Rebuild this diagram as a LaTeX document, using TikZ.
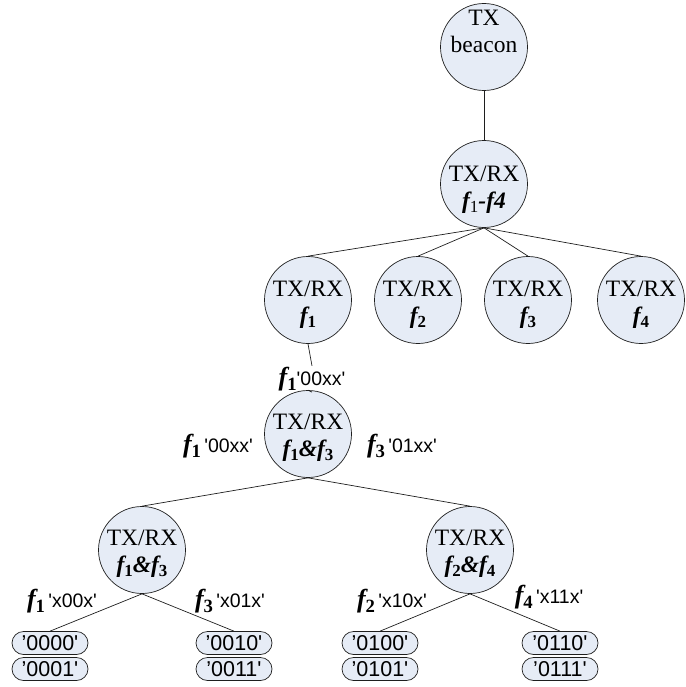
\documentclass[tikz,border=0pt]{standalone}
\usepackage{fontspec}
\setmainfont{Liberation Serif}
\setsansfont{Liberation Sans}

\definecolor{nodefill}{RGB}{230,236,246}
\definecolor{inkline}{RGB}{30,30,30}

% bold italic f with a bold upright subscript
\newcommand\fs[1]{{\rmfamily\bfseries\itshape f}{\rmfamily\bfseries\upshape\raisebox{-0.4ex}{\scalebox{0.72}{#1}}}}
\newcommand\sq{\textquotesingle}
% edge label: large f with subscript, then a code in sans
\newcommand\branch[3]{{\fontsize{26}{26}\selectfont\fs{#1}}#2\sq #3\sq}
% two-line station text, raised by #1 without changing the circle size
\newcommand\stn[3]{\raisebox{#1}[0pt][0pt]{\begin{tabular}{@{}c@{}}#2\\#3\end{tabular}}}

\tikzset{
  station/.style={circle, draw=inkline, fill=nodefill, line width=0.7pt,
    minimum size=87pt, inner sep=0pt,
    font=\fontsize{23.5}{26.5}\selectfont},
  codepill/.style={rectangle, rounded corners=11.5pt, draw=inkline, fill=nodefill,
    line width=0.7pt, minimum width=76pt, minimum height=23pt, inner sep=0pt,
    font=\sffamily\fontsize{21.5}{21.5}\selectfont},
  link/.style={draw=inkline, line width=0.7pt},
  edgelabel/.style={inner sep=1pt, font=\sffamily\fontsize{19.5}{19.5}\selectfont}
}

\begin{document}
\begin{tikzpicture}[x=1pt, y=-1pt]
  \useasboundingbox (0,0) rectangle (685,687);

  % stations
  \node[station] (beacon) at (484,47)  {\stn{7pt}{TX}{beacon}};
  \node[station] (all)    at (484,184) {\stn{-12pt}{TX/RX}{{\bfseries\itshape f}\raisebox{-0.4ex}{\scalebox{0.72}{1}}{\bfseries\itshape -f4}}};
  \node[station] (fa)     at (308,300) {\stn{-11pt}{TX/RX}{\fs{1}}};
  \node[station] (fb)     at (418,300) {\stn{-11pt}{TX/RX}{\fs{2}}};
  \node[station] (fc)     at (528,300) {\stn{-11pt}{TX/RX}{\fs{3}}};
  \node[station] (fd)     at (641,300) {\stn{-11pt}{TX/RX}{\fs{4}}};
  \node[station] (mid)    at (308,434) {\stn{-10pt}{TX/RX}{\fs{1}{\bfseries\itshape\&}\fs{3}}};
  \node[station] (left)   at (142,550) {\stn{-10pt}{TX/RX}{\fs{1}{\bfseries\itshape\&}\fs{3}}};
  \node[station] (right)  at (470,550) {\stn{-10pt}{TX/RX}{\fs{2}{\bfseries\itshape\&}\fs{4}}};

  % code leaves
  \node[codepill] (c0000) at (50,643)  {’0000\sq};
  \node[codepill] (c0001) at (50,669)  {’0001\sq};
  \node[codepill] (c0010) at (234,643) {’0010\sq};
  \node[codepill] (c0011) at (234,669) {’0011\sq};
  \node[codepill] (c0100) at (380,643) {’0100\sq};
  \node[codepill] (c0101) at (380,669) {’0101\sq};
  \node[codepill] (c0110) at (560,643) {’0110\sq};
  \node[codepill] (c0111) at (560,669) {’0111\sq};

  % branch labels
  \node[edgelabel] (lab0) at (312,379) {\branch{1}{}{00xx}};
  \node[edgelabel] (lab1) at (218,446) {\branch{1}{\,}{00xx}};
  \node[edgelabel] (lab2) at (402,446) {\branch{3}{\,}{01xx}};
  \node[edgelabel] (lab3) at (62,601)  {\branch{1}{\,}{x00x}};
  \node[edgelabel] (lab4) at (230,601) {\branch{3}{\,}{x01x}};
  \node[edgelabel] (lab5) at (392,601) {\branch{2}{\,}{x10x}};
  \node[edgelabel] (lab6) at (549,597) {\branch{4}{\,}{x11x}};

  % connectors
  \draw[link] (beacon.south) -- (all.north);
  \draw[link] (all.south) -- (fa.north);
  \draw[link] (all.south) -- (fb.north);
  \draw[link] (all.south) -- (fc.north);
  \draw[link] (all.south) -- (fd.north);
  \draw[link] (fa.south) -- (lab0.north);
  \draw[link] (lab0.south) -- (mid.north);
  \draw[link] (mid.south) -- (left.north);
  \draw[link] (mid.south) -- (right.north);
  \draw[link] (left.south) -- (c0000.north);
  \draw[link] (left.south) -- (c0010.north);
  \draw[link] (right.south) -- (c0100.north);
  \draw[link] (right.south) -- (c0110.north);
\end{tikzpicture}
\end{document}
